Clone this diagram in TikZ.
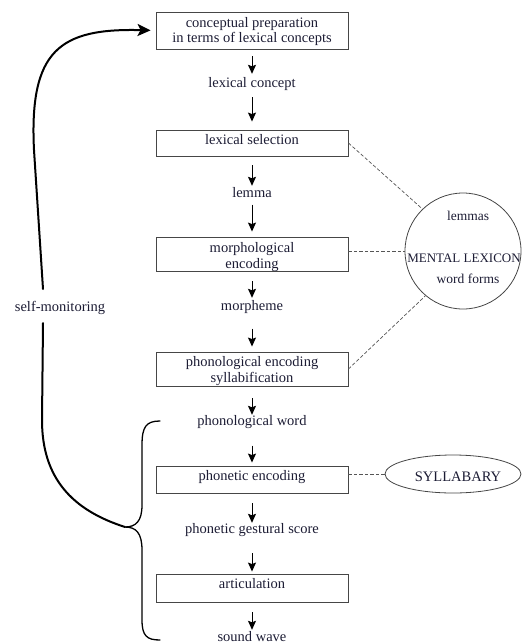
\documentclass[tikz,border=0pt]{standalone}
\usepackage{fontspec}
\setmainfont{Liberation Serif}
\usetikzlibrary{arrows.meta,shapes.geometric}
\definecolor{ink}{RGB}{28,28,52}
\definecolor{frame}{RGB}{70,70,70}
\definecolor{dashgray}{RGB}{85,85,85}
\begin{document}
\begin{tikzpicture}[x=1pt,y=-1pt,
  lbl/.style={inner sep=0pt, text height=10pt, text depth=3.5pt, anchor=base,
    text=ink, font=\fontsize{14.5}{16}\selectfont},
  small/.style={lbl, font=\fontsize{13.5}{15}\selectfont},
  stagebox/.style={draw=frame, line width=0.9pt, minimum width=192pt, inner sep=0pt},
  flow/.style={draw=black, line width=0.9pt,
    -{Stealth[length=9pt,width=8pt,inset=1.5pt]}},
  link/.style={draw=dashgray, line width=0.7pt, dash pattern=on 3.5pt off 2pt},
  monitor/.style={draw=black, line width=2pt, line cap=round},
  curly/.style={draw=black, line width=1.3pt, line cap=round}
]
\useasboundingbox (0,0) rectangle (522,643);

% processing stages
\node[stagebox, minimum height=37pt] (b1) at (252,30.5) {};
\node[stagebox, minimum height=26pt] (b2) at (252,143) {};
\node[stagebox, minimum height=34pt] (b3) at (252,254) {};
\node[stagebox, minimum height=34pt] (b4) at (252,369) {};
\node[stagebox, minimum height=27pt] (b5) at (252,479.5) {};
\node[stagebox, minimum height=28pt] (b6) at (252,588) {};

% stage names
\node[lbl] (t1a) at (252,27) {conceptual preparation};
\node[lbl] (t1b) at (252,42) {in terms of lexical concepts};
\node[lbl] (t2) at (252,144) {lexical selection};
\node[lbl] (t3a) at (252,252) {morphological};
\node[lbl] (t3b) at (252,268) {encoding};
\node[lbl] (t4a) at (252,366) {phonological encoding};
\node[lbl] (t4b) at (252,382) {syllabification};
\node[lbl] (t5) at (252,480) {phonetic encoding};
\node[lbl] (t6) at (252,588) {articulation};

% intermediate representations
\node[lbl] (lc) at (252,87) {lexical concept};
\node[lbl] (lem) at (252,197) {lemma};
\node[lbl] (mor) at (252,310) {morpheme};
\node[lbl] (pw) at (252,425) {phonological word};
\node[lbl] (pgs) at (252,533) {phonetic gestural score};
\node[lbl] (sw) at (252,641) {sound wave};

% flow of processing
\draw[flow, shorten <=7pt, shorten >=3pt] (b1) -- (lc);
\draw[flow, shorten <=6.5pt, shorten >=8pt] (lc) -- (b2);
\draw[flow, shorten <=9pt, shorten >=1pt] (b2) -- (lem);
\draw[flow, shorten <=4pt, shorten >=5pt] (lem) -- (b3);
\draw[flow, shorten <=10pt, shorten >=2pt] (b3) -- (mor);
\draw[flow, shorten <=15pt, shorten >=5pt] (mor) -- (b4);
\draw[flow, shorten <=12pt, shorten >=0pt] (b4) -- (pw);
\draw[flow, shorten <=17pt, shorten >=3pt] (pw) -- (b5);
\draw[flow, shorten <=10pt, shorten >=0pt] (b5) -- (pgs);
\draw[flow, shorten <=16.5pt, shorten >=2pt] (pgs) -- (b6);
\draw[flow, shorten <=10pt, shorten >=1pt] (b6) -- (sw);

% mental lexicon
\node[draw=frame, line width=0.8pt, circle, minimum size=116pt, inner sep=0pt] (lex) at (463,251) {};
\node[small] (lexa) at (468,220) {lemmas};
\node[small, font=\fontsize{13}{15}\selectfont] (lexb) at (464,262) {MENTAL LEXICON};
\node[small] (lexc) at (468,283) {word forms};

% syllabary
\node[draw=frame, line width=0.8pt, ellipse, minimum width=136pt, minimum height=38pt, inner sep=0pt] (syl) at (453,474) {};
\node[lbl] (sylt) at (458,481) {SYLLABARY};

% access links
\draw[link] (b2.east) -- (lex.134);
\draw[link] (b3.east |- lex.west) -- (lex.west);
\draw[link] (b4.east) -- (lex.230);
\draw[link] (b5.east |- syl.west) -- (syl.west);

% self-monitoring loop
\coordinate (tip) at (125,527);
\coordinate (m1) at (43,323);
\coordinate (m2) at (43,289);
\node[lbl] (sm) at (60,311) {self-monitoring};
\draw[curly] (160,421) .. controls (146,421) and (142,427) .. (142,445)
  -- (142,505) .. controls (142,521) and (136,527) .. (tip)
  .. controls (136,527) and (142,533) .. (142,550)
  -- (142,620) .. controls (142,636) and (147,640) .. (160,640);
\draw[monitor] (tip) .. controls (72,510) and (42,478) .. (42,420) -- (m1);
\draw[monitor, -{Stealth[length=13pt,width=12pt,inset=3pt]}, shorten >=5pt]
  (m2) -- (34,150) .. controls (29,50) and (60,28) .. (b1.west);
\end{tikzpicture}
\end{document}
